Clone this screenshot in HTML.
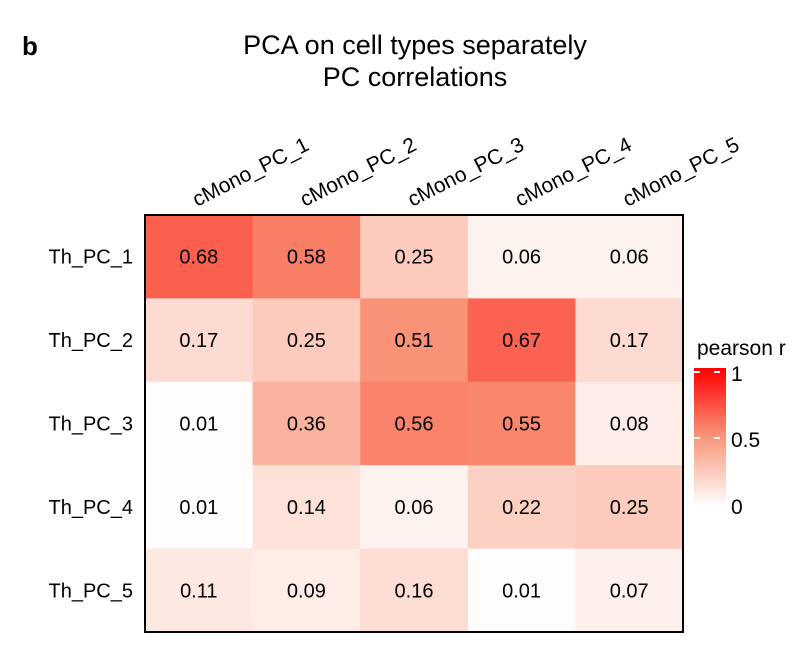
<!DOCTYPE html>
<html><head><meta charset="utf-8"><style>
body{margin:0;background:#fff;font-family:"Liberation Sans",sans-serif;}
</style></head><body>
<svg id="c" width="807" height="640" xmlns="http://www.w3.org/2000/svg">
<defs><linearGradient id="g" x1="0" y1="1" x2="0" y2="0">
<stop offset="0" stop-color="#ffffff"/><stop offset="0.5" stop-color="#f8967a"/><stop offset="1" stop-color="#ff0000"/>
</linearGradient></defs>
<text x="22" y="55" font-size="26" font-weight="bold">b</text>
<text x="415" y="54" font-size="27" text-anchor="middle">PCA on cell types separately</text>
<text x="415" y="86" font-size="27" text-anchor="middle">PC correlations</text>
<g id="cells"></g>
<rect x="145" y="215" width="538" height="417" fill="none" stroke="#000" stroke-width="2"/>
<g>
<text x="697" y="355" font-size="21">pearson r</text>
<rect x="694" y="368" width="32" height="138" fill="url(#g)"/>
<line x1="694" y1="372" x2="726" y2="372" stroke="#fff" stroke-width="2" stroke-dasharray="6,14"/>
<line x1="694" y1="438" x2="726" y2="438" stroke="#fff" stroke-width="2" stroke-dasharray="6,14"/>
<text x="731" y="381" font-size="21">1</text>
<text x="731" y="447" font-size="21">0.5</text>
<text x="731" y="514" font-size="21">0</text>
</g>
</svg>
<script>
const cols=["cMono_PC_1","cMono_PC_2","cMono_PC_3","cMono_PC_4","cMono_PC_5"];
const rows=["Th_PC_1","Th_PC_2","Th_PC_3","Th_PC_4","Th_PC_5"];
const values=[
[0.68,0.58,0.25,0.06,0.06],
[0.17,0.25,0.51,0.67,0.17],
[0.01,0.36,0.56,0.55,0.08],
[0.01,0.14,0.06,0.22,0.25],
[0.11,0.09,0.16,0.01,0.07]];
const NS="http://www.w3.org/2000/svg";
const x0=145,y0=215,cw=538/cols.length,ch=417/rows.length;
const xs=i=>x0+i*cw, ys=j=>y0+j*ch;
function color(v){
  let a,b,t;
  if(v<=0.5){a=[255,255,255];b=[248,150,122];t=v/0.5;}
  else{a=[248,150,122];b=[255,0,0];t=(v-0.5)/0.5;}
  return `rgb(${a.map((c,k)=>Math.round(c+(b[k]-c)*t)).join(',')})`;
}
const g=document.getElementById('cells');
const svg=document.getElementById('c');
rows.forEach((r,j)=>{
  cols.forEach((c,i)=>{
    const v=values[j][i];
    const rc=document.createElementNS(NS,'rect');
    rc.setAttribute('x',xs(i));rc.setAttribute('y',ys(j));
    rc.setAttribute('width',cw+0.5);rc.setAttribute('height',ch+0.5);
    rc.setAttribute('fill',color(v));
    
    
    g.appendChild(rc);
    const t=document.createElementNS(NS,'text');
    t.setAttribute('x',xs(i)+cw/2);t.setAttribute('y',ys(j)+ch/2+7);
    t.setAttribute('font-size','20');t.setAttribute('text-anchor','middle');
    t.textContent=v.toFixed(2);
    
    
    g.appendChild(t);
  });
  const l=document.createElementNS(NS,'text');
  l.setAttribute('x',133);l.setAttribute('y',ys(j)+ch/2+7);
  l.setAttribute('font-size','20');l.setAttribute('text-anchor','end');
  l.textContent=r;
  
  
  svg.appendChild(l);
});
cols.forEach((c,i)=>{
  const l=document.createElementNS(NS,'text');
  const x=xs(i)+52,y=207;
  l.setAttribute('x',x);l.setAttribute('y',y);
  l.setAttribute('font-size','21');
  l.setAttribute('transform',`rotate(-27 ${x} ${y})`);
  l.textContent=c;
  
  
  svg.appendChild(l);
});
</script>
</body></html>
